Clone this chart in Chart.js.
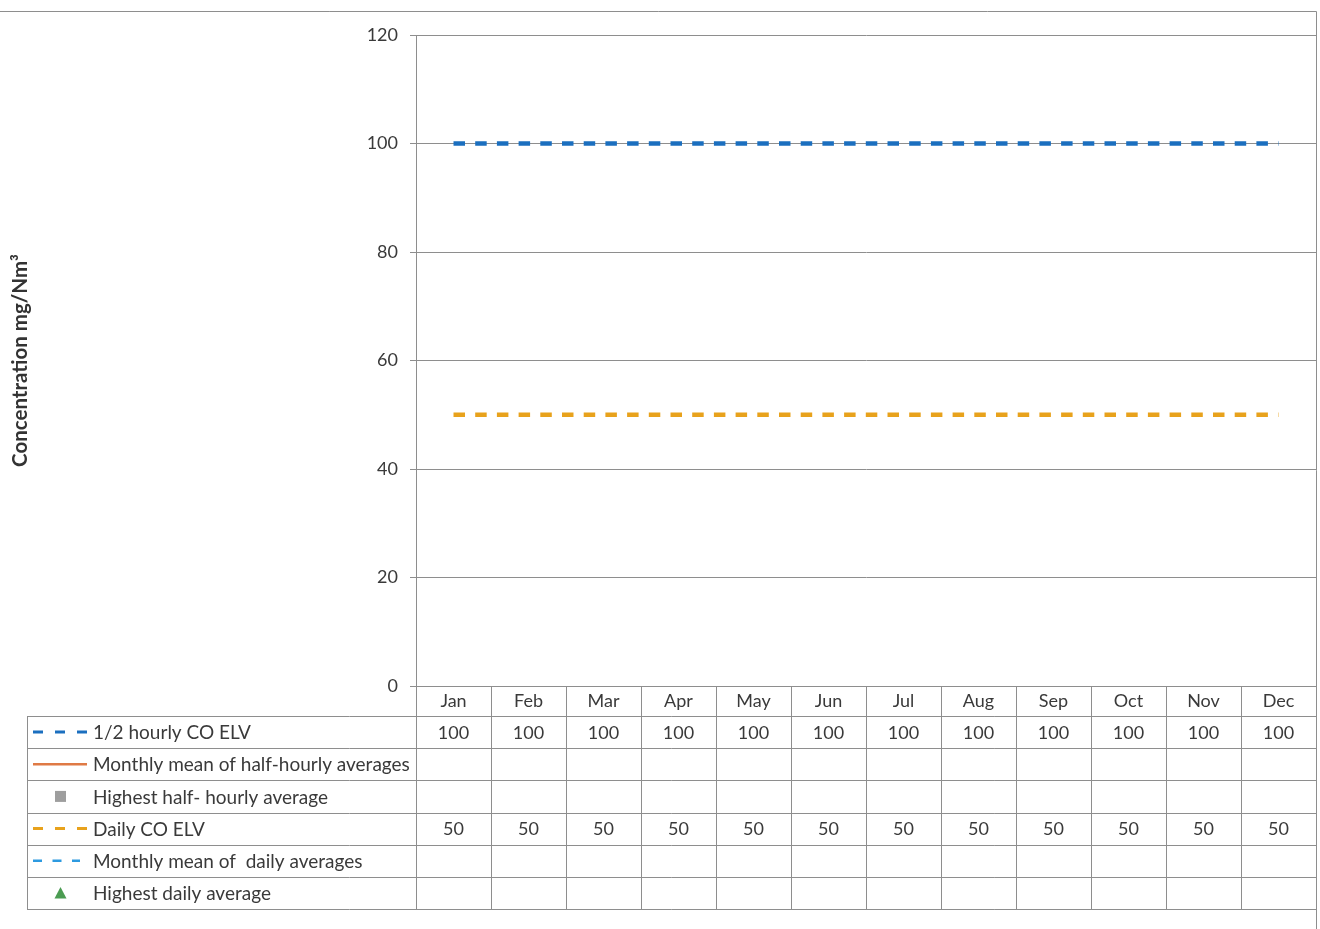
<!DOCTYPE html>
<html>
<head>
<meta charset="utf-8">
<title>CO emissions against ELV</title>
<script src="https://cdn.jsdelivr.net/npm/chart.js@4/dist/chart.umd.min.js"></script>
<style>
  html, body { margin: 0; padding: 0; background: #ffffff; }
  #wrap { width: 1320px; height: 929px; position: relative; }
</style>
</head>
<body>
<div id="wrap"><canvas id="chart" width="1320" height="929"></canvas></div>
<script>
// Months along the category axis
const months = ['Jan', 'Feb', 'Mar', 'Apr', 'May', 'Jun', 'Jul', 'Aug', 'Sep', 'Oct', 'Nov', 'Dec'];

// Series values, mg/Nm3 (null = no value reported)
const halfHourlyElv          = [100, 100, 100, 100, 100, 100, 100, 100, 100, 100, 100, 100];
const monthlyMeanHalfHourly  = [null, null, null, null, null, null, null, null, null, null, null, null];
const highestHalfHourly      = [null, null, null, null, null, null, null, null, null, null, null, null];
const dailyElv               = [50, 50, 50, 50, 50, 50, 50, 50, 50, 50, 50, 50];
const monthlyMeanDaily       = [null, null, null, null, null, null, null, null, null, null, null, null];
const highestDaily           = [null, null, null, null, null, null, null, null, null, null, null, null];

// Value axis ticks
const yTicks = [0, 20, 40, 60, 80, 100, 120];

const FONT = 'Lato, "Open Sans", "DejaVu Sans", sans-serif';
const TEXT = '#3a3a3a';
const RULE = '#8e8e8e';

// Paints the white page, the outer frame and the data table under the plot
const dataTable = {
  id: 'dataTable',
  beforeDraw(chart) {
    const ctx = chart.ctx;
    ctx.save();
    ctx.fillStyle = '#ffffff';
    ctx.fillRect(0, 0, chart.width, chart.height);
    ctx.restore();
  },
  afterDraw(chart) {
    const ctx = chart.ctx;
    const xs = chart.scales.x;
    const area = chart.chartArea;
    const n = chart.data.labels.length;
    const colW = xs.width / n;
    const headerH = 30;
    const bodyTop = area.bottom + headerH;
    const sets = chart.data.datasets;
    const rowH = (xs.bottom - bodyTop) / sets.length;
    const keyLeft = 27;
    const px = v => Math.round(v) + 0.5;
    const line = (x1, y1, x2, y2) => { ctx.beginPath(); ctx.moveTo(x1, y1); ctx.lineTo(x2, y2); ctx.stroke(); };

    ctx.save();
    ctx.strokeStyle = RULE;
    ctx.lineWidth = 1;

    // outer chart frame (top rule and right edge)
    line(0, 11.5, px(xs.right), 11.5);
    line(px(xs.right), 11.5, px(xs.right), chart.height);

    // column separators
    for (let i = 0; i <= n; i++) {
      const x = px(xs.left + i * colW);
      line(x, area.bottom, x, px(xs.bottom));
    }
    // row separators
    for (let r = 0; r <= sets.length; r++) {
      const y = px(bodyTop + r * rowH);
      line(keyLeft, y, px(xs.right), y);
    }
    line(px(keyLeft), px(bodyTop), px(keyLeft), px(xs.bottom));

    // legend keys, series names and values
    ctx.textBaseline = 'middle';
    sets.forEach((ds, r) => {
      const cy = bodyTop + (r + 0.5) * rowH;
      const key = ds.tableKey;
      ctx.save();
      if (key.type === 'line') {
        ctx.strokeStyle = ds.borderColor;
        ctx.lineWidth = key.width;
        ctx.setLineDash(key.dash || []);
        line(keyLeft + 6, cy, keyLeft + 6 + key.length, cy);
      } else if (key.type === 'rect') {
        ctx.fillStyle = ds.backgroundColor;
        ctx.fillRect(keyLeft + 28, cy - 5.5, 11, 11);
      } else if (key.type === 'triangle') {
        ctx.fillStyle = ds.backgroundColor;
        ctx.beginPath();
        ctx.moveTo(keyLeft + 33.5, cy - 6);
        ctx.lineTo(keyLeft + 39.5, cy + 5.5);
        ctx.lineTo(keyLeft + 27.5, cy + 5.5);
        ctx.closePath();
        ctx.fill();
      }
      ctx.restore();

      ctx.fillStyle = TEXT;
      ctx.textAlign = 'left';
      ctx.font = '19px ' + FONT;
      ctx.fillText(ds.label, 93, cy + 1);

      ctx.textAlign = 'center';
      ctx.font = '18px ' + FONT;
      ds.data.forEach((v, i) => {
        if (v === null || v === undefined) return;
        ctx.fillText(String(v), xs.getPixelForValue(i), cy + 1);
      });
    });
    ctx.restore();
  }
};

const dashedSeries = (label, data, color, dash, key) => ({
  label, data,
  borderColor: color,
  backgroundColor: color,
  borderWidth: 4.5,
  borderDash: dash,
  borderCapStyle: 'butt',
  pointRadius: 0,
  tension: 0,
  fill: false,
  tableKey: key
});

new Chart(document.getElementById('chart'), {
  type: 'line',
  data: {
    labels: months,
    datasets: [
      dashedSeries('1/2 hourly CO ELV', halfHourlyElv, '#1b6fbf', [11.5, 10.2],
        { type: 'line', width: 3, dash: [10, 12], length: 55 }),
      {
        label: 'Monthly mean of half-hourly averages', data: monthlyMeanHalfHourly,
        borderColor: '#df7a45', backgroundColor: '#df7a45', borderWidth: 2.5,
        pointRadius: 0, fill: false,
        tableKey: { type: 'line', width: 2.5, length: 54 }
      },
      {
        label: 'Highest half- hourly average', data: highestHalfHourly,
        borderColor: '#9e9e9e', backgroundColor: '#9e9e9e', showLine: false,
        pointStyle: 'rect', pointRadius: 0, pointBorderWidth: 0,
        tableKey: { type: 'rect' }
      },
      dashedSeries('Daily CO ELV', dailyElv, '#e8a21c', [11.5, 10.2],
        { type: 'line', width: 3, dash: [10, 12], length: 55 }),
      {
        label: 'Monthly mean of  daily averages', data: monthlyMeanDaily,
        borderColor: '#2d9ae0', backgroundColor: '#2d9ae0', borderWidth: 2.5,
        borderDash: [9, 10.5], pointRadius: 0, fill: false,
        tableKey: { type: 'line', width: 2.5, dash: [9, 10.5], length: 47 }
      },
      {
        label: 'Highest daily average', data: highestDaily,
        borderColor: '#4b9c52', backgroundColor: '#4b9c52', showLine: false,
        pointStyle: 'triangle', pointRadius: 0, pointBorderWidth: 0,
        tableKey: { type: 'triangle' }
      }
    ]
  },
  options: {
    responsive: false,
    animation: false,
    layout: { padding: { top: 35, right: 4, bottom: 20, left: 0 } },
    plugins: {
      legend: { display: false },
      tooltip: { enabled: false },
      title: { display: false }
    },
    scales: {
      x: {
        type: 'category',
        offset: true,
        grid: { display: false, drawTicks: false },
        border: { display: false },
        ticks: {
          color: TEXT,
          font: { family: FONT, size: 18 },
          padding: 4,
          maxRotation: 0,
          autoSkip: false
        },
        afterFit(scale) {
          scale.height = 223;
          scale.paddingLeft = 0;
          scale.paddingRight = 0;
        }
      },
      y: {
        min: 0,
        max: 120,
        afterBuildTicks(scale) { scale.ticks = yTicks.map(v => ({ value: v })); },
        grid: { color: RULE, lineWidth: 1, drawTicks: true, tickLength: 6, tickColor: RULE },
        border: { display: true, color: RULE, width: 1 },
        ticks: {
          color: TEXT,
          font: { family: FONT, size: 18 },
          padding: 12
        },
        title: {
          display: true,
          text: 'Concentration mg/Nm\u00B3',
          color: '#333333',
          font: { family: FONT, size: 20.5, weight: 'bold' },
          padding: { top: 8, bottom: 0 }
        },
        afterFit(scale) { scale.width = 416; }
      }
    }
  },
  plugins: [dataTable]
});
</script>
</body>
</html>
